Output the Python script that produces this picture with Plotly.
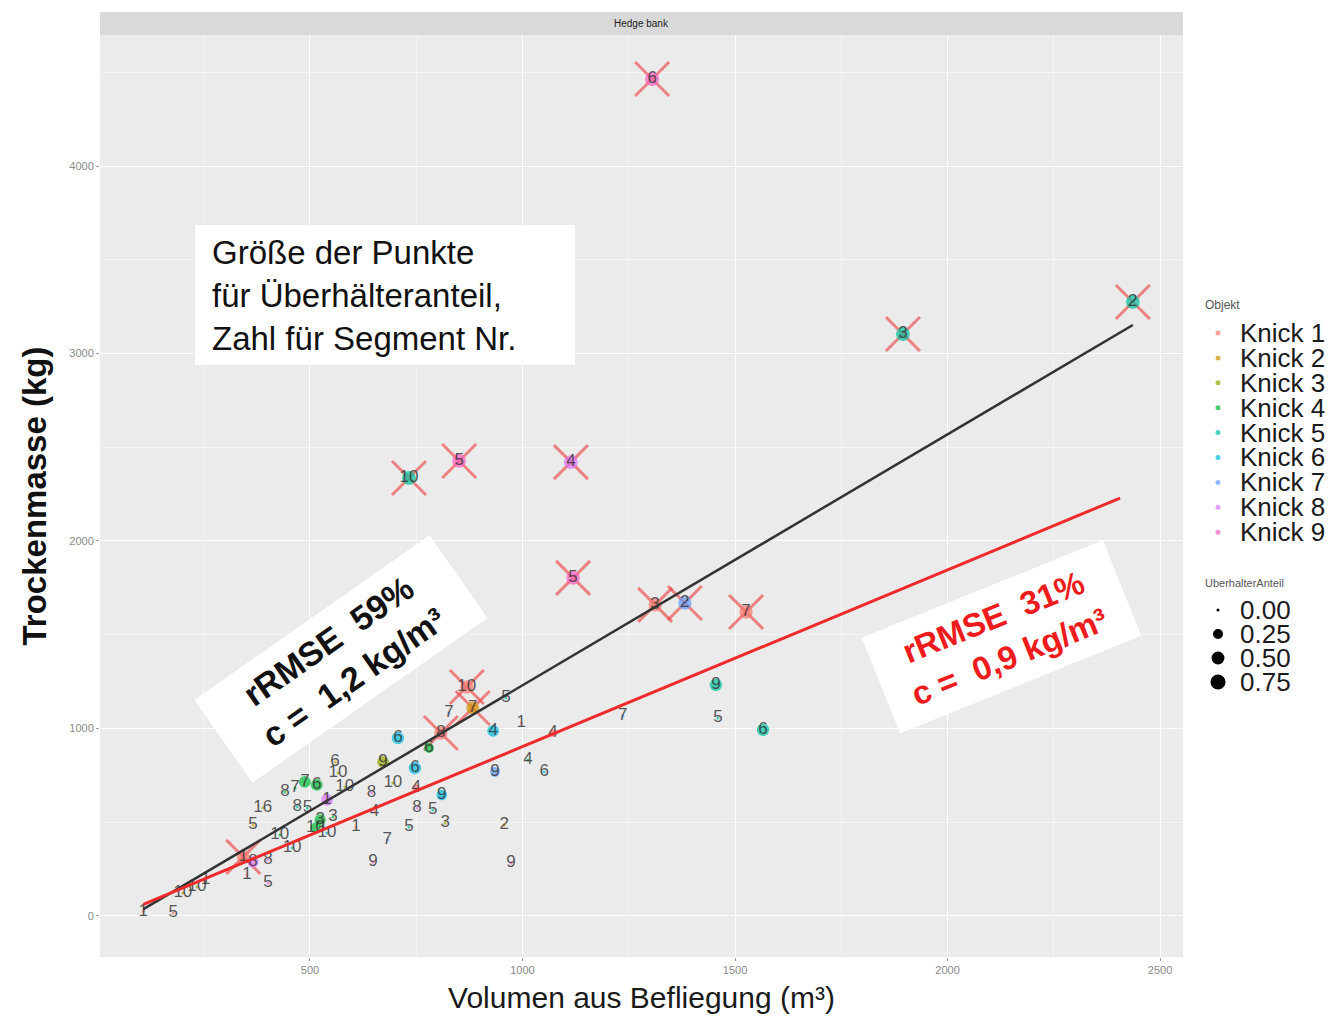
import math
import plotly.graph_objects as go

# ---------------- data ----------------
knick_labels = [f"Knick {i}" for i in range(1, 10)]
knick_colors = ["#F8766D", "#D39200", "#93AA00", "#00BA38", "#00C19F",
                "#00B9E3", "#619CFF", "#DB72FB", "#FF61C3"]

# flagged segments, segments with overstorey trees, remaining segments
volumen_m3 = [1305, 2436, 1895, 733, 851, 1114, 1119, 1312, 1382, 1526, 869, 883, 808, 343,
              672, 707, 747, 931, 1455, 1566, 935, 810, 780, 750, 1072, 488, 516, 540, 524, 366, 513,
              108, 178, 201, 234, 255, 352, 401, 401, 366, 389, 429, 458, 441, 465, 470, 494, 554, 540,
              559, 566, 582, 608, 648, 682, 645, 652, 695, 733, 752, 789, 818, 957, 973, 1013, 1051,
              997, 961, 827, 1236, 1460]
trockenmasse_kg = [4464, 3275, 3104, 2336, 2427, 2421, 1803, 1659, 1669, 1621, 1221, 1109, 976, 315,
                   821, 949, 789, 987, 1232, 992, 768, 645, 896, 683, 976, 715, 699, 619, 512, 288, 470,
                   25, 16, 123, 155, 192, 219, 176, 299, 485, 576, 432, 363, 661, 683, 581, 576, 528, 443,
                   821, 763, 688, 475, 288, 405, 656, 555, 709, 475, 576, 565, 496, 485, 283, 832, 768,
                   1029, 1163, 1083, 1067, 1056]
objekt = [9, 5, 5, 5, 9, 8, 9, 1, 7, 1, 1, 2, 1, 1,
          3, 6, 6, 6, 5, 5, 7, 6, 4, 1, 1, 4, 4, 8, 4, 8, 4,
          1, 1, 2, 3, 1, 1, 8, 8, 2, 3, 4, 5, 4, 4, 5, 5, 4, 6,
          2, 3, 3, 1, 9, 7, 8, 1, 3, 5, 8, 5, 3, 2, 9, 4, 6,
          1, 5, 7, 7, 5]
segment_nr = [6, 2, 3, 10, 5, 4, 5, 3, 2, 7, 10, 7, 8, 1,
              9, 6, 6, 4, 9, 6, 9, 9, 6, 4, 4, 7, 6, 1, 3, 8, 10,
              1, 5, 10, 10, 1, 1, 5, 8, 5, 16, 10, 10, 8, 7, 8, 5, 3, 10,
              6, 10, 10, 1, 9, 7, 8, 4, 10, 5, 8, 5, 3, 2, 9, 4, 6,
              1, 5, 7, 7, 5]
ueberhaelter_anteil = [0.65, 0.6, 0.6, 0.6, 0.6, 0.6, 0.6, 0.55, 0.55, 0.55, 0.55, 0.5, 0.55, 0.5,
                       0.4, 0.45, 0.45, 0.4, 0.45, 0.45, 0.25, 0.3, 0.25, 0.1, 0.1, 0.4, 0.4, 0.4,
                       0.35, 0.35, 0.3] + [0.0] * 40
ausgeschlossen = [1] * 14 + [0] * 57

size_levels = [0.00, 0.25, 0.50, 0.75]

# linear fits: all segments (black) and without flagged segments (red)
fit_all = {"slope": 1.3385, "intercept": -108.5}
fit_red = {"slope": 0.943, "intercept": -40.0}
fit_red_xmax = 2406

x_ticks = [500, 1000, 1500, 2000, 2500]
y_ticks = [0, 1000, 2000, 3000, 4000]

# ---------------- layout geometry ----------------
W, H = 1343, 1017
ML, MR, MT, MB = 100, 160, 35, 60
PW, PH = W - ML - MR, H - MT - MB
FONT = "Liberation Sans, Arial, sans-serif"


def xp(px):
    return (px - ML) / PW


def yp(py):
    return (H - MB - py) / PH


def dot_size(a):
    return 3 + 14 * math.sqrt(a)


fig = go.Figure()

# red crosses on flagged segments
fx = [v for v, f in zip(volumen_m3, ausgeschlossen) if f]
fy = [m for m, f in zip(trockenmasse_kg, ausgeschlossen) if f]
fig.add_trace(go.Scatter(
    x=fx, y=fy, mode="markers", showlegend=False, hoverinfo="skip",
    marker=dict(symbol="x-thin", size=34,
                line=dict(width=3, color="rgba(238,70,70,0.65)"))))

# points coloured by object, sized by overstorey share
fig.add_trace(go.Scatter(
    x=volumen_m3, y=trockenmasse_kg, mode="markers", showlegend=False,
    marker=dict(color=[knick_colors[k - 1] for k in objekt],
                size=[dot_size(a) for a in ueberhaelter_anteil], line=dict(width=0)),
    customdata=[knick_labels[k - 1] for k in objekt],
    hovertemplate="%{customdata}<br>%{x} m³, %{y} kg<extra></extra>"))

# segment numbers
fig.add_trace(go.Scatter(
    x=volumen_m3, y=trockenmasse_kg, mode="text", showlegend=False, hoverinfo="skip",
    text=[str(s) for s in segment_nr], textposition="middle center",
    textfont=dict(family=FONT, size=17, color="rgba(50,50,50,0.82)")))

# regression lines
x0 = min(volumen_m3)
x_all = [x0, max(volumen_m3)]
x_red = [x0, fit_red_xmax]
fig.add_trace(go.Scatter(
    x=x_all, y=[fit_all["intercept"] + fit_all["slope"] * v for v in x_all],
    mode="lines", showlegend=False, hoverinfo="skip",
    line=dict(color="#333333", width=2.5)))
fig.add_trace(go.Scatter(
    x=x_red, y=[fit_red["intercept"] + fit_red["slope"] * v for v in x_red],
    mode="lines", showlegend=False, hoverinfo="skip",
    line=dict(color="#EE2A2A", width=3)))

shapes = []
annotations = []

# facet strip
shapes.append(dict(type="rect", xref="paper", yref="paper", x0=0, x1=1, y0=1, y1=yp(12),
                   fillcolor="#D9D9D9", line=dict(width=0), layer="below"))
annotations.append(dict(text="Hedge bank", xref="paper", yref="paper", x=0.5, y=yp(23.5),
                        showarrow=False, font=dict(family=FONT, size=10, color="#1a1a1a"),
                        xanchor="center", yanchor="middle"))

# explanation box
shapes.append(dict(type="rect", xref="paper", yref="paper", x0=xp(195), x1=xp(575),
                   y0=yp(365), y1=yp(225), fillcolor="white", line=dict(width=0)))
annotations.append(dict(text="Größe der Punkte<br>für Überhälteranteil,<br>Zahl für Segment Nr.",
                        xref="paper", yref="paper", x=xp(210), y=yp(295), showarrow=False,
                        xanchor="left", yanchor="middle", align="left",
                        font=dict(family=FONT, size=33, color="#111111")))

# fit statistics
annotations.append(dict(text="rRMSE\u00a0\u00a059%<br>c =\u00a0\u00a01,2 kg/m³",
                        xref="paper", yref="paper", x=xp(341), y=yp(659), showarrow=False,
                        textangle=-35, bgcolor="white", borderpad=6, width=274, height=88,
                        align="center", xanchor="center", yanchor="middle",
                        font=dict(family=FONT, size=34, color="#111111", weight="bold")))
annotations.append(dict(text="rRMSE\u00a0\u00a031%<br>c =\u00a0\u00a00,9 kg/m³",
                        xref="paper", yref="paper", x=xp(1001), y=yp(637), showarrow=False,
                        textangle=-22, bgcolor="white", borderpad=6, width=247, height=90,
                        align="center", xanchor="center", yanchor="middle",
                        font=dict(family=FONT, size=33, color="#EE1C1C", weight="bold")))

# legend: objects
annotations.append(dict(text="Objekt", xref="paper", yref="paper", x=xp(1203), y=yp(305),
                        showarrow=False, xanchor="left", yanchor="middle",
                        font=dict(family=FONT, size=12, color="#555555")))
for i, (lab, col) in enumerate(zip(knick_labels, knick_colors)):
    cy = 333 + 24.9 * i
    shapes.append(dict(type="circle", xref="paper", yref="paper",
                       xsizemode="pixel", ysizemode="pixel", xanchor=xp(1218), yanchor=yp(cy),
                       x0=-2.5, x1=2.5, y0=-2.5, y1=2.5,
                       fillcolor=col, opacity=0.7, line=dict(width=0)))
    annotations.append(dict(text=lab, xref="paper", yref="paper", x=xp(1238), y=yp(cy),
                            showarrow=False, xanchor="left", yanchor="middle",
                            font=dict(family=FONT, size=26, color="#1a1a1a")))

# legend: overstorey share
annotations.append(dict(text="UberhalterAnteil", xref="paper", yref="paper", x=xp(1203), y=yp(583),
                        showarrow=False, xanchor="left", yanchor="middle",
                        font=dict(family=FONT, size=11, color="#555555")))
for i, a in enumerate(size_levels):
    cy = 610 + 24 * i
    r = dot_size(a) / 2
    shapes.append(dict(type="circle", xref="paper", yref="paper",
                       xsizemode="pixel", ysizemode="pixel", xanchor=xp(1218), yanchor=yp(cy),
                       x0=-r, x1=r, y0=-r, y1=r, fillcolor="black", line=dict(width=0)))
    annotations.append(dict(text=f"{a:.2f}", xref="paper", yref="paper", x=xp(1238), y=yp(cy),
                            showarrow=False, xanchor="left", yanchor="middle",
                            font=dict(family=FONT, size=26, color="#1a1a1a")))

axis_common = dict(
    showline=False, zeroline=False, ticks="outside", ticklen=3, tickcolor="#9a9a9a",
    tickfont=dict(family=FONT, size=11, color="#8a8a8a"),
    showgrid=True, gridcolor="white", gridwidth=1.4,
)

fig.update_layout(
    width=W, height=H,
    margin=dict(l=ML, r=MR, t=MT, b=MB, autoexpand=False),
    paper_bgcolor="white", plot_bgcolor="#EBEBEB",
    font=dict(family=FONT),
    shapes=shapes, annotations=annotations,
    showlegend=False,
    xaxis=dict(axis_common, range=[6, 2554], tickvals=x_ticks,
               minor=dict(tickvals=[250, 750, 1250, 1750, 2250], showgrid=True,
                          gridcolor="#F4F4F4", gridwidth=0.7, ticks=""),
               title=dict(text="Volumen aus Befliegung (m³)", standoff=11,
                          font=dict(family=FONT, size=30, color="#1a1a1a")),
               automargin=False),
    yaxis=dict(axis_common, range=[-219, 4699], tickvals=y_ticks,
               minor=dict(tickvals=[500, 1500, 2500, 3500, 4500], showgrid=True,
                          gridcolor="#F4F4F4", gridwidth=0.7, ticks=""),
               title=dict(text="Trockenmasse (kg)", standoff=12,
                          font=dict(family=FONT, size=33, color="#111111", weight="bold")),
               automargin=False),
)

fig.write_html("out.html")
